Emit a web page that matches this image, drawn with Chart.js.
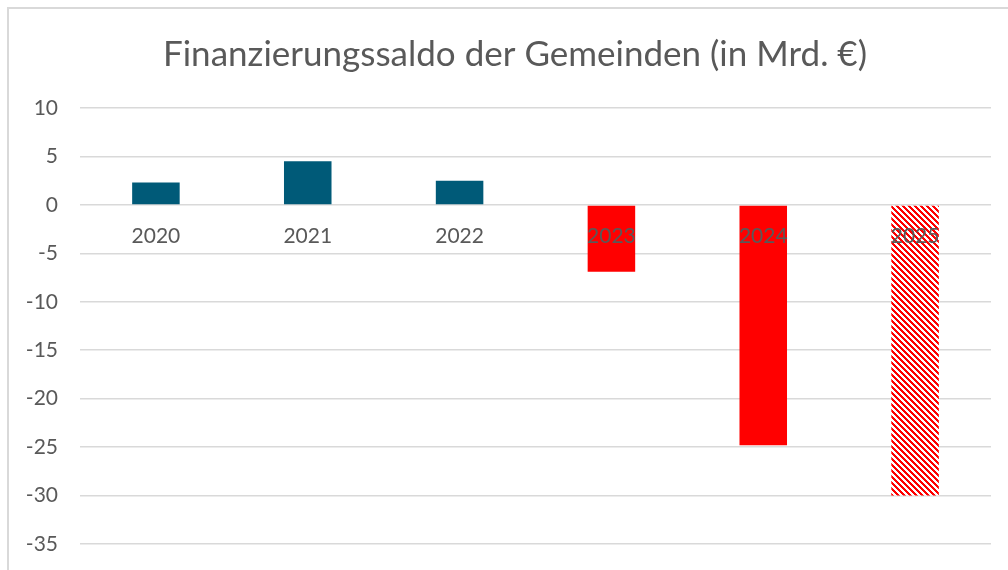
<!DOCTYPE html>
<html>
<head>
<meta charset="utf-8">
<script src="https://cdn.jsdelivr.net/npm/chart.js@4.4.1/dist/chart.umd.min.js"></script>
<style>
  html, body { margin: 0; padding: 0; background: #ffffff; }
  #wrap { position: relative; width: 1008px; height: 570px; overflow: hidden; }
  #frame { position: absolute; left: 7px; top: 7px; width: 1100px; height: 700px; border: 2px solid #d9d9d9; box-sizing: border-box; pointer-events: none; }
  canvas { position: absolute; left: 0; top: 0; }
</style>
</head>
<body>
<div id="wrap">
  <canvas id="c" width="1008" height="570"></canvas>
  <div id="frame"></div>
</div>
<script>
const chartTitle = 'Finanzierungssaldo der Gemeinden (in Mrd. €)';
const years = ['2020', '2021', '2022', '2023', '2024', '2025'];
const saldo = [2.3, 4.5, 2.5, -6.9, -24.8, -30.0];
const yTicks = [10, 5, 0, -5, -10, -15, -20, -25, -30, -35];

const textColor = '#595959';
const gridColor = '#d9d9d9';
const blue = '#005a78';
const red = '#ff0000';

function makeHatch() {
  const s = 6;
  const cv = document.createElement('canvas');
  cv.width = s; cv.height = s;
  const ctx = cv.getContext('2d');
  const img = ctx.createImageData(s, s);
  for (let y = 0; y < s; y++) {
    for (let x = 0; x < s; x++) {
      const i = (y * s + x) * 4;
      const isRed = (((x - y) % s) + s) % s < 3;
      img.data[i] = 255;
      img.data[i + 1] = isRed ? 0 : 255;
      img.data[i + 2] = isRed ? 0 : 255;
      img.data[i + 3] = 255;
    }
  }
  ctx.putImageData(img, 0, 0);
  return document.getElementById('c').getContext('2d').createPattern(cv, 'repeat');
}
const hatch = makeHatch();

const colors = saldo.map((v, i) => {
  if (i === years.length - 1) return hatch;
  return v >= 0 ? blue : red;
});

// shift the title block so it is centred like the reference
const titleShift = {
  id: 'titleShift',
  afterLayout(chart) {
    if (chart.titleBlock) { chart.titleBlock.left += 39; }
  }
};

new Chart(document.getElementById('c'), {
  type: 'bar',
  data: {
    labels: years,
    datasets: [{
      data: saldo,
      backgroundColor: colors,
      borderWidth: 0,
      categoryPercentage: 1,
      barPercentage: 0.313
    }]
  },
  plugins: [titleShift],
  options: {
    responsive: false,
    animation: false,
    layout: { padding: { left: 0, right: 17, top: 0, bottom: 26 } },
    plugins: {
      legend: { display: false },
      tooltip: { enabled: false },
      title: {
        display: true,
        text: chartTitle,
        color: textColor,
        font: { family: 'Lato', size: 35, weight: 'normal' },
        padding: { top: 34, bottom: 32 }
      }
    },
    scales: {
      x: {
        position: { y: 0 },
        afterFit: (scale) => { scale.height = 0; scale.paddingLeft = 0; scale.paddingRight = 0; },
        grid: { display: false, drawTicks: false },
        border: { display: false },
        ticks: {
          z: 1,
          color: textColor,
          font: { family: 'Lato', size: 21 },
          padding: 19,
          maxRotation: 0,
          autoSkip: false
        }
      },
      y: {
        min: -35,
        max: 10,
        afterFit: (scale) => { scale.width = 80; scale.paddingTop = 0; scale.paddingBottom = 0; },
        afterBuildTicks: (scale) => { scale.ticks = yTicks.map(v => ({ value: v })); },
        grid: { color: gridColor, lineWidth: 1.5, drawTicks: false },
        border: { display: false },
        ticks: {
          color: textColor,
          font: { family: 'Lato', size: 21 },
          padding: 22
        }
      }
    }
  }
});
</script>
</body>
</html>
